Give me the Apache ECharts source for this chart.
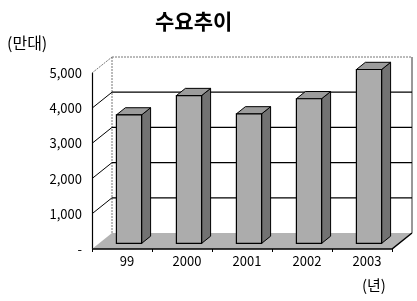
<!DOCTYPE html>
<html>
<head>
<meta charset="utf-8">
<script src="https://cdn.jsdelivr.net/npm/echarts@6/dist/echarts.min.js"></script>
<style>
    html, body {margin: 0; padding: 0; background: #fff;}
    #chart {width: 417px; height: 301px;}
</style>
</head>
<body>
<div id="chart"></div>
<script>
var years = ['99', '2000', '2001', '2002', '2003'];
var demand = [3650, 4200, 3680, 4110, 4940];
var yTicks = [0, 1000, 2000, 3000, 4000, 5000];

// 3D 깊이 (앞면 -> 뒷벽)
var DX = 20, DY = -16;
var BAR_FRONT = 0.35, BAR_BACK = 0.8;
var FONT = '"Noto Sans CJK KR", "DejaVu Sans", sans-serif';

var chart = echarts.init(document.getElementById('chart'));

function fmt(v) {
    if (v === 0) return '-';
    return String(v).replace(/\B(?=(\d{3})+(?!\d))/g, ',');
}

//바닥
function renderFloor(params, api) {
    var cs = params.coordSys;
    var y0 = api.coord([0, 0])[1];
    var L = cs.x, R = cs.x + cs.width;
    return {
        type: 'group',
        children: [{
            type: 'polygon',
            shape: {points: [[L, y0], [R, y0], [R + DX, y0 + DY], [L + DX, y0 + DY]]},
            style: {fill: '#b3b3b3', stroke: null}
        }, {
            type: 'polyline',
            shape: {points: [[L, y0], [R, y0], [R + DX, y0 + DY]]},
            style: {stroke: '#000', lineWidth: 1.5, fill: null}
        }]
    };
}

//벽, 눈금선
function renderWall(params, api) {
    var cs = params.coordSys;
    var v = api.value(0);
    var y = api.coord([0, v])[1];
    var L = cs.x, R = cs.x + cs.width;
    var top = v === yTicks[yTicks.length - 1];
    var children = [];
    if (v === 0) {
        var y5 = api.coord([0, yTicks[yTicks.length - 1]])[1];
        children.push({
            type: 'line',
            shape: {x1: L + DX, y1: y + DY, x2: L + DX, y2: y5 + DY},
            style: {stroke: '#777', lineWidth: 1, lineDash: [2, 1]}
        });
        children.push({
            type: 'line',
            shape: {x1: R + DX, y1: y + DY, x2: R + DX, y2: y5 + DY},
            style: {stroke: '#333', lineWidth: 1}
        });
        return {type: 'group', children: children};
    }
    children.push({
        type: 'line',
        shape: {x1: L, y1: y, x2: L + DX, y2: y + DY},
        style: top ? {stroke: '#777', lineWidth: 1, lineDash: [2, 1]} : {stroke: '#000', lineWidth: 1}
    });
    children.push({
        type: 'line',
        shape: {x1: L + DX, y1: y + DY, x2: R + DX, y2: y + DY},
        style: top ? {stroke: '#777', lineWidth: 1, lineDash: [2, 1]} : {stroke: '#000', lineWidth: 1.2}
    });
    return {type: 'group', children: children};
}

//막대
function renderBar(params, api) {
    var i = api.value(0), v = api.value(1);
    var base = api.coord([i, 0]);
    var tp = api.coord([i, v]);
    var half = api.size([1, 0])[0] * 0.21;
    var fx = DX * BAR_FRONT, fy = DY * BAR_FRONT;
    var ddx = DX * (BAR_BACK - BAR_FRONT), ddy = DY * (BAR_BACK - BAR_FRONT);
    var x0 = base[0] - half + fx, x1 = base[0] + half + fx;
    var y0 = base[1] + fy, y1 = tp[1] + fy;
    return {
        type: 'group',
        children: [{
            type: 'polygon',
            shape: {points: [[x1, y0], [x1 + ddx, y0 + ddy], [x1 + ddx, y1 + ddy], [x1, y1]]},
            style: {fill: '#727272', stroke: '#000', lineWidth: 1}
        }, {
            type: 'polygon',
            shape: {points: [[x0, y1], [x1, y1], [x1 + ddx, y1 + ddy], [x0 + ddx, y1 + ddy]]},
            style: {fill: '#9c9c9c', stroke: '#000', lineWidth: 1}
        }, {
            type: 'rect',
            shape: {x: x0, y: y1, width: x1 - x0, height: y0 - y1},
            style: {fill: '#acacac', stroke: '#000', lineWidth: 1.2}
        }]
    };
}

var option = {
    animation: false,
    backgroundColor: '#fff',
    title: {
        text: '수요추이',
        left: 150,
        top: 6,
        textStyle: {fontFamily: FONT, fontSize: 21, fontWeight: 'bold', color: '#000'}
    },
    graphic: [{
        type: 'text', left: 7, top: 35,
        style: {text: '(만대)', font: '16px ' + FONT, fill: '#000'}
    }, {
        type: 'text', left: 362, top: 278,
        style: {text: '(년)', font: '15px ' + FONT, fill: '#000'}
    }],
    grid: {left: 92, right: 25, top: 73, bottom: 52, containLabel: false, outerBoundsMode: 'none'},
    xAxis: {
        type: 'category',
        data: years,
        axisLine: {show: false},
        axisTick: {show: true, length: 3, lineStyle: {color: '#000'}},
        axisLabel: {fontFamily: FONT, fontSize: 13, color: '#000', margin: 6, padding: [0, 0, 0, 10]},
        splitLine: {show: false}
    },
    yAxis: {
        type: 'value',
        min: 0,
        max: 5000,
        interval: 1000,
        axisLine: {show: true, lineStyle: {color: '#000', width: 1.2}},
        axisTick: {show: false},
        splitLine: {show: false},
        axisLabel: {fontFamily: FONT, fontSize: 13, color: '#000', margin: 10, formatter: fmt}
    },
    series: [{
        type: 'custom',
        z: 1,
        data: [0],
        renderItem: renderFloor,
        silent: true
    }, {
        type: 'custom',
        z: 2,
        data: yTicks.map(function (v) { return [v]; }),
        encode: {y: 0},
        renderItem: renderWall,
        silent: true
    }, {
        type: 'custom',
        z: 3,
        data: demand.map(function (v, i) { return [i, v]; }),
        encode: {x: 0, y: 1},
        renderItem: renderBar
    }]
};
chart.setOption(option);
</script>
</body>
</html>
